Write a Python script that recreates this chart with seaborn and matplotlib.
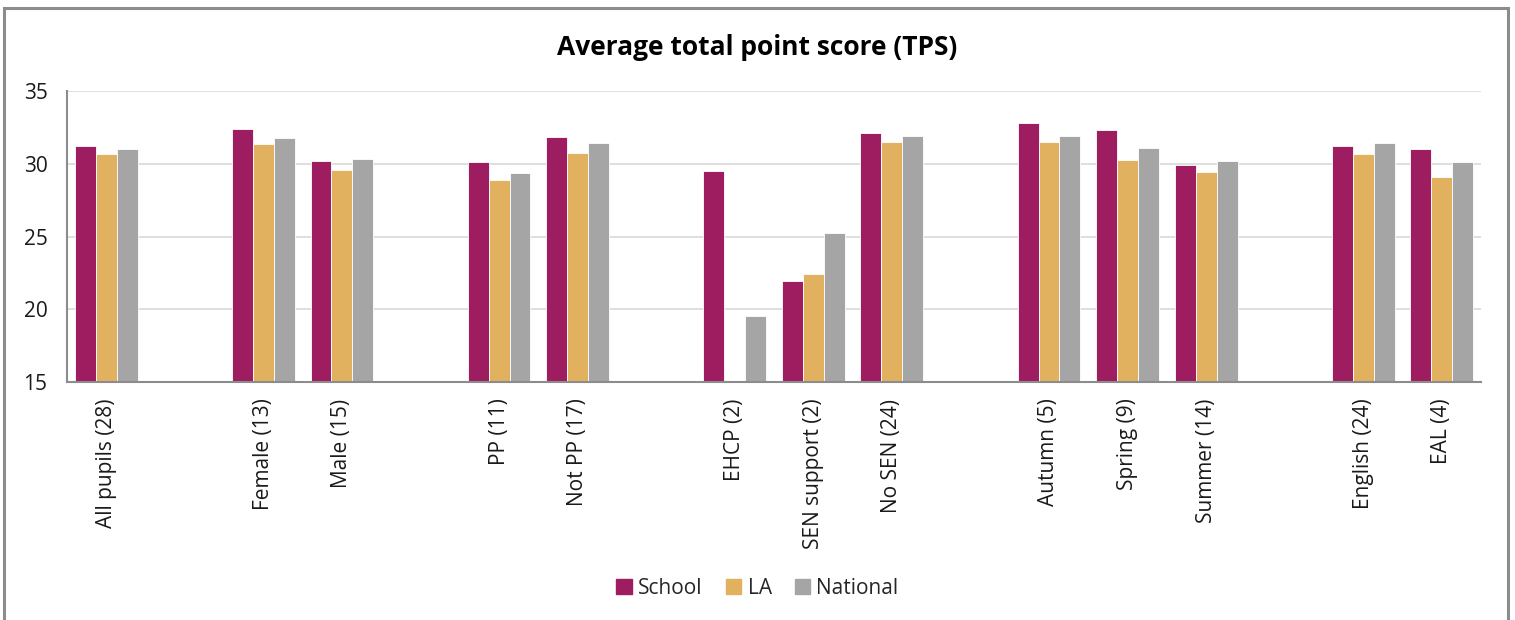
import matplotlib

matplotlib.use("Agg")

import matplotlib.pyplot as plt
import numpy as np
import pandas as pd
import seaborn as sns
from matplotlib.patches import Rectangle

# None marks an empty spacer slot on the x axis
categories = [
    "All pupils (28)", None, "Female (13)", "Male (15)", None,
    "PP (11)", "Not PP (17)", None,
    "EHCP (2)", "SEN support (2)", "No SEN (24)", None,
    "Autumn (5)", "Spring (9)", "Summer (14)", None,
    "English (24)", "EAL (4)",
]
school = [31.2, np.nan, 32.4, 30.2, np.nan, 30.1, 31.85, np.nan,
          29.5, 21.95, 32.1, np.nan, 32.8, 32.3, 29.9, np.nan, 31.2, 31.0]
la = [30.65, np.nan, 31.35, 29.55, np.nan, 28.9, 30.75, np.nan,
      np.nan, 22.45, 31.5, np.nan, 31.5, 30.25, 29.45, np.nan, 30.7, 29.1]
national = [31.05, np.nan, 31.8, 30.3, np.nan, 29.4, 31.4, np.nan,
            19.5, 25.25, 31.9, np.nan, 31.9, 31.1, 30.2, np.nan, 31.4, 30.1]
series = ["School", "LA", "National"]
colors = ["#9E1C60", "#E2B160", "#A5A5A5"]

slots = [c if c is not None else f"_gap{i}" for i, c in enumerate(categories)]
frame = pd.DataFrame({
    "slot": slots * 3,
    "series": np.repeat(series, len(slots)),
    "value": school + la + national,
}).dropna()

sns.set_theme(style="white")
plt.rcParams["font.family"] = ["Open Sans", "DejaVu Sans"]

fig = plt.figure(figsize=(15.15, 6.2), dpi=100)
ax = fig.add_axes([0.0442, 0.384, 0.9334, 0.469])

sns.barplot(
    data=frame, x="slot", y="value", hue="series",
    order=slots, hue_order=series, palette=colors, saturation=1,
    width=0.8, edgecolor="white", linewidth=0.6, ax=ax,
)

ax.set_ylim(15, 35)
ax.set_yticks([15, 20, 25, 30, 35])
ax.yaxis.grid(True, color="#D9D9D9", linewidth=1.2)
ax.set_axisbelow(True)
ax.tick_params(axis="y", labelsize=15, length=0, pad=14, colors="#1A1A1A")
ax.tick_params(axis="x", labelsize=15, length=0, pad=12, colors="#1A1A1A")
ax.set_xticks(range(len(slots)))
ax.set_xticklabels([c or "" for c in categories], rotation=90, va="top")
ax.set_xlabel("")
ax.set_ylabel("")
for side in ("top", "right"):
    ax.spines[side].set_visible(False)
ax.spines["left"].set_color("#8C8C8C")
ax.spines["bottom"].set_color("#8C8C8C")
ax.spines["left"].set_linewidth(1.5)
ax.spines["bottom"].set_linewidth(1.5)

ax.legend_.remove()
handles = [Rectangle((0, 0), 1, 1, color=c) for c in colors]
fig.legend(handles, series, loc="center", bbox_to_anchor=(0.5, 0.051),
           ncol=3, frameon=False, fontsize=15, handlelength=0.75,
           handleheight=0.75, handletextpad=0.3, columnspacing=1.1)

fig.text(0.5, 0.924, "Average total point score (TPS)", ha="center",
         va="center", fontsize=19, fontweight="bold", color="#000000")

fig.patches.append(Rectangle((4 / 1515, -0.05), 1504 / 1515, 1.037,
                             transform=fig.transFigure, fill=False,
                             edgecolor="#8C8C8C", linewidth=2.2))

fig.savefig("out.png", dpi=100)
